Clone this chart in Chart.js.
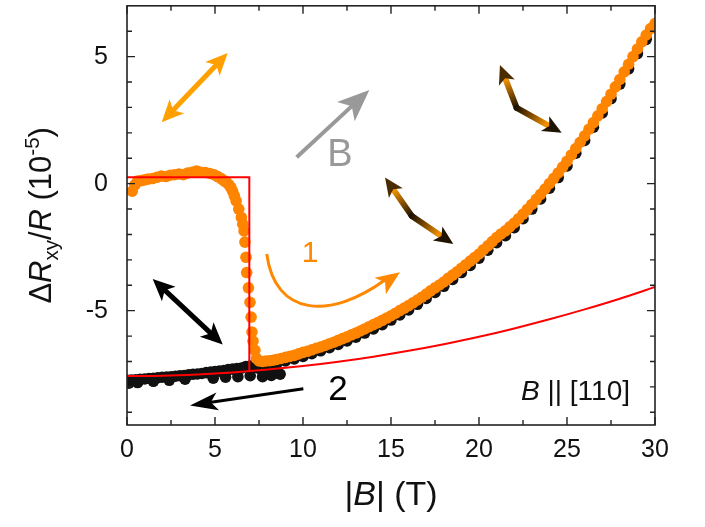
<!DOCTYPE html>
<html>
<head>
<meta charset="utf-8">
<script src="https://cdn.jsdelivr.net/npm/chart.js@4.4.0/dist/chart.umd.min.js"></script>
<style>
html, body { margin: 0; padding: 0; background: #fff; }
</style>
</head>
<body>
<canvas id="chart" width="705" height="527"></canvas>
<script>
// sweep 1 (up, orange)
var upX = [0.3, 0.45, 0.6, 0.8, 1.0, 1.2, 1.45, 1.7, 1.95, 2.2, 2.45, 2.7, 2.95, 3.2, 3.45, 3.7, 3.95, 4.2, 4.45, 4.7, 4.95, 5.15, 5.35, 5.5, 5.65, 5.8, 5.9, 6.0, 6.1,
    6.2, 6.35, 6.5, 6.58, 6.65, 6.7, 6.76, 6.8, 6.9, 6.99, 7.05, 7.1, 7.16, 7.27, 7.36,
    7.5, 7.7, 7.9, 8.1, 8.3, 8.5, 8.75, 9.0, 9.25, 9.5, 9.75, 10.0, 10.25, 10.5, 10.75, 11.0, 11.25, 11.5, 11.75,
    12.0, 12.25, 12.5, 12.75, 13.0, 13.25, 13.5, 13.75, 14.0, 14.25, 14.5, 14.75, 15.0, 15.25, 15.5, 15.75,
    16.0, 16.25, 16.5, 16.75, 17.0, 17.25, 17.5, 17.75, 18.0, 18.25, 18.5, 18.75, 19.0, 19.25, 19.5, 19.75,
    20.0, 20.25, 20.5, 20.75, 21.0, 21.25, 21.5, 21.75, 22.0, 22.25, 22.5, 22.75, 23.0, 23.25, 23.5, 23.75,
    24.0, 24.25, 24.5, 24.75, 25.0, 25.25, 25.5, 25.75, 26.0, 26.25, 26.5, 26.75, 27.0, 27.25, 27.5, 27.75,
    28.0, 28.25, 28.5, 28.75, 29.0, 29.25, 29.5, 29.75, 30.0];
var upY = [-0.3, -0.05, 0.1, 0.12, 0.15, 0.18, 0.2, 0.25, 0.3, 0.28, 0.33, 0.35, 0.38, 0.35, 0.42, 0.45, 0.5, 0.45, 0.44, 0.4, 0.35, 0.28, 0.2, 0.12, 0.05, -0.05, -0.15, -0.3, -0.48,
    -0.68, -1.0, -1.33, -1.6, -1.86, -2.3, -2.9, -3.5, -4.1, -4.67, -5.25, -5.84, -6.2, -6.56, -6.88,
    -6.98, -7.0, -6.98, -6.97, -6.95, -6.92, -6.88, -6.84, -6.8, -6.76, -6.7, -6.64, -6.6, -6.54, -6.48, -6.43, -6.37, -6.3, -6.24,
    -6.17, -6.1, -6.03, -5.95, -5.88, -5.8, -5.72, -5.63, -5.55, -5.47, -5.38, -5.29, -5.2, -5.1, -5.0, -4.9,
    -4.8, -4.69, -4.58, -4.47, -4.35, -4.22, -4.1, -3.99, -3.87, -3.73, -3.6, -3.47, -3.33, -3.19, -3.05, -2.91,
    -2.77, -2.6, -2.45, -2.28, -2.12, -1.98, -1.86, -1.7, -1.55, -1.38, -1.2, -1.01, -0.82, -0.62, -0.42, -0.21,
    0.0, 0.21, 0.42, 0.65, 0.88, 1.13, 1.38, 1.63, 1.88, 2.14, 2.4, 2.67, 2.95, 3.23, 3.52, 3.81,
    4.1, 4.4, 4.7, 5.0, 5.3, 5.58, 5.85, 6.1, 6.3];

// sweep 2 (down, black)
var downX = [30, 29.5, 29, 28.5, 28, 27.5, 27, 26.5, 26, 25.5, 25, 24.5, 24, 23.5, 23, 22.5, 22, 21.5, 21, 20.5, 20,
    19.5, 19, 18.5, 18, 17.5, 17, 16.5, 16, 15.5, 15, 14.5, 14, 13.5, 13, 12.5, 12, 11.5, 11, 10.5, 10, 9.5, 9,
    8.5, 8.25, 8, 7.75, 7.5, 7.25, 7, 6.75, 6.5, 6.25, 6, 5.75, 5.5, 5.25, 5, 4.75, 4.5, 4.25, 4, 3.75, 3.5, 3.25,
    3, 2.75, 2.5, 2.25, 2, 1.75, 1.5, 1.25, 1, 0.75, 0.5, 0.25, 0.05,
    0.1, 0.6, 1.5, 2.4, 3.3, 4.9, 5.6, 6.3, 7.0, 7.7, 8.2, 8.7];
var downY = [6.15, 5.68, 5.12, 4.52, 3.92, 3.35, 2.78, 2.22, 1.7, 1.2, 0.7, 0.24, -0.18, -0.6, -1.0, -1.38, -1.73, -2.05, -2.32, -2.62, -2.93,
    -3.22, -3.5, -3.77, -4.04, -4.28, -4.52, -4.75, -4.97, -5.17, -5.37, -5.55, -5.72, -5.88, -6.04, -6.19, -6.33, -6.46, -6.58, -6.69, -6.8, -6.9, -6.98,
    -7.1, -7.2, -7.28, -7.3, -7.27, -7.22, -7.18, -7.2, -7.26, -7.28, -7.3, -7.32, -7.36, -7.38, -7.4, -7.42, -7.44, -7.47, -7.49, -7.5, -7.52, -7.55,
    -7.56, -7.58, -7.6, -7.61, -7.62, -7.64, -7.66, -7.67, -7.69, -7.7, -7.72, -7.73, -7.74,
    -7.85, -7.83, -7.78, -7.74, -7.7, -7.66, -7.62, -7.6, -7.56, -7.6, -7.55, -7.5];

// model (red)
var stepX = [0, 6.95, 6.95];
var stepY = [0.25, 0.25, -7.38];
var fitX = [0, 2, 4, 6, 8, 10, 12, 14, 16, 18, 20, 22, 24, 26, 28, 30];
var fitY = [-7.57, -7.56, -7.51, -7.43, -7.32, -7.18, -7.01, -6.81, -6.58, -6.32, -6.03, -5.7, -5.34, -4.95, -4.53, -4.07];

var xTicks = [0, 5, 10, 15, 20, 25, 30];
var yTicks = [-5, 0, 5];
var xMinor = [2.5, 7.5, 12.5, 17.5, 22.5, 27.5];
var yMinor = [-9, -8, -7, -6, -4, -3, -2, -1, 1, 2, 3, 4, 6];

var FONT = '"Liberation Sans", Arial, sans-serif';

function pts(xs, ys) {
    var out = [];
    for (var i = 0; i < xs.length; i++) out.push({ x: xs[i], y: ys[i] });
    return out;
}

function arrowHead(ctx, tx, ty, ang, len, wid, color) {
    ctx.save();
    ctx.translate(tx, ty);
    ctx.rotate(ang);
    ctx.fillStyle = color;
    ctx.beginPath();
    ctx.moveTo(0, 0);
    ctx.lineTo(-len, -wid / 2);
    ctx.lineTo(-len * 0.75, 0);
    ctx.lineTo(-len, wid / 2);
    ctx.closePath();
    ctx.fill();
    ctx.restore();
}

function arrow(ctx, x0, y0, x1, y1, o) {
    var ang = Math.atan2(y1 - y0, x1 - x0);
    var back = o.len * 0.7;
    var sx = x0, sy = y0;
    if (o.dbl) { sx = x0 + Math.cos(ang) * back; sy = y0 + Math.sin(ang) * back; }
    ctx.save();
    ctx.strokeStyle = o.color;
    ctx.lineWidth = o.lw;
    ctx.beginPath();
    ctx.moveTo(sx, sy);
    ctx.lineTo(x1 - Math.cos(ang) * back, y1 - Math.sin(ang) * back);
    ctx.stroke();
    ctx.restore();
    arrowHead(ctx, x1, y1, ang, o.len, o.wid, o.color);
    if (o.dbl) arrowHead(ctx, x0, y0, ang + Math.PI, o.len, o.wid, o.color);
}

function bentArrow(ctx, a, b, c) {
    var legs = [[b, a], [b, c]];
    legs.forEach(function (leg) {
        var p = leg[0], q = leg[1];
        var g = ctx.createLinearGradient(p[0], p[1], q[0], q[1]);
        g.addColorStop(0, '#201300');
        g.addColorStop(0.3, '#7a4800');
        g.addColorStop(0.65, '#f09000');
        g.addColorStop(0.85, '#e08a00');
        g.addColorStop(1, '#4a2c00');
        var ang = Math.atan2(q[1] - p[1], q[0] - p[0]);
        ctx.save();
        ctx.strokeStyle = g;
        ctx.lineWidth = 6;
        ctx.lineCap = 'round';
        ctx.beginPath();
        ctx.moveTo(p[0], p[1]);
        ctx.lineTo(q[0] - Math.cos(ang) * 12, q[1] - Math.sin(ang) * 12);
        ctx.stroke();
        ctx.restore();
        arrowHead(ctx, q[0], q[1], ang, 19, 17, g);
    });
}

function richText(ctx, segs, size, x, y) {
    var w = 0;
    segs.forEach(function (s) {
        var fs = s.sub || s.sup ? size * 0.66 : size;
        ctx.font = (s.it ? 'italic ' : '') + fs + 'px ' + FONT;
        s.w = ctx.measureText(s.t).width;
        s.fs = fs;
        w += s.w;
    });
    var cx = x - w / 2;
    ctx.textAlign = 'left';
    ctx.textBaseline = 'alphabetic';
    segs.forEach(function (s) {
        ctx.font = (s.it ? 'italic ' : '') + s.fs + 'px ' + FONT;
        var dy = s.sub ? size * 0.22 : (s.sup ? -size * 0.38 : 0);
        ctx.fillText(s.t, cx, y + dy);
        cx += s.w;
    });
}

var decor = {
    id: 'decor',
    afterDatasetsDraw: function (chart) {
        var ctx = chart.ctx, xs = chart.scales.x, ys = chart.scales.y, a = chart.chartArea;
        function X(v) { return xs.getPixelForValue(v); }
        function Y(v) { return ys.getPixelForValue(v); }

        // frame and inward ticks
        ctx.save();
        ctx.strokeStyle = '#222';
        ctx.lineWidth = 1.6;
        ctx.strokeRect(a.left, a.top, a.right - a.left, a.bottom - a.top);
        ctx.lineWidth = 1.4;
        ctx.beginPath();
        xTicks.concat(xMinor).forEach(function (v) {
            var L = xTicks.indexOf(v) >= 0 ? 8 : 5, px = X(v);
            ctx.moveTo(px, a.bottom); ctx.lineTo(px, a.bottom - L);
            ctx.moveTo(px, a.top); ctx.lineTo(px, a.top + L);
        });
        yTicks.concat(yMinor).forEach(function (v) {
            var L = yTicks.indexOf(v) >= 0 ? 8 : 5, py = Y(v);
            ctx.moveTo(a.left, py); ctx.lineTo(a.left + L, py);
            ctx.moveTo(a.right, py); ctx.lineTo(a.right - L, py);
        });
        ctx.stroke();
        ctx.restore();

        // axis titles
        ctx.save();
        ctx.fillStyle = '#111';
        richText(ctx, [{ t: '|' }, { t: 'B', it: true }, { t: '| (T)' }], 34, (a.left + a.right) / 2, 505);
        ctx.translate(51, (a.top + a.bottom) / 2);
        ctx.rotate(-Math.PI / 2);
        richText(ctx, [{ t: '\u0394' }, { t: 'R', it: true }, { t: 'xy', sub: true }, { t: '/' }, { t: 'R', it: true },
            { t: ' (10' }, { t: '-5', sup: true }, { t: ')' }], 31, 0, 0);
        ctx.restore();

        // annotations
        arrow(ctx, X(1.97), Y(2.42), X(5.72), Y(5.14), { color: '#ffa000', lw: 5, len: 22, wid: 20, dbl: true });
        arrow(ctx, X(9.64), Y(1.04), X(13.77), Y(3.69), { color: '#999', lw: 4, len: 32, wid: 26 });
        arrow(ctx, X(1.46), Y(-3.75), X(5.44), Y(-6.33), { color: '#000', lw: 5, len: 22, wid: 20, dbl: true });
        arrow(ctx, X(10.02), Y(-8.07), X(3.58), Y(-8.73), { color: '#000', lw: 3, len: 28, wid: 18 });
        bentArrow(ctx, [X(21.19), Y(4.67)], [X(22.14), Y(2.98)], [X(24.7), Y(2.0)]);
        bentArrow(ctx, [X(14.66), Y(0.24)], [X(16.18), Y(-1.27)], [X(18.54), Y(-2.38)]);

        // curved arrow of sweep 1
        var p0 = [X(7.94), Y(-2.77)], p1 = [X(8.4), Y(-5.2)], p2 = [X(11.5), Y(-5.4)], p3 = [X(15.51), Y(-3.49)];
        ctx.save();
        ctx.strokeStyle = '#ff8800';
        ctx.lineWidth = 3;
        ctx.beginPath();
        ctx.moveTo(p0[0], p0[1]);
        ctx.bezierCurveTo(p1[0], p1[1], p2[0], p2[1], p3[0] - 14, p3[1] + 7);
        ctx.stroke();
        ctx.restore();
        arrowHead(ctx, p3[0], p3[1], Math.atan2(p3[1] - p2[1], p3[0] - p2[0]), 24, 20, '#ff8800');

        ctx.save();
        ctx.textAlign = 'center';
        ctx.textBaseline = 'middle';
        ctx.fillStyle = '#999';
        ctx.font = '38px ' + FONT;
        ctx.fillText('B', X(12.1), Y(1.1));
        ctx.fillStyle = '#ff8800';
        ctx.font = '30px ' + FONT;
        ctx.fillText('1', X(10.4), Y(-2.75));
        ctx.fillStyle = '#000';
        ctx.font = '35px ' + FONT;
        ctx.fillText('2', X(11.99), Y(-8.14));
        ctx.restore();

        ctx.save();
        ctx.fillStyle = '#111';
        ctx.textBaseline = 'middle';
        ctx.textAlign = 'right';
        ctx.font = '28px ' + FONT;
        var tail = ' || [110]';
        var tw = ctx.measureText(tail).width;
        ctx.fillText(tail, X(28.58), Y(-8.21));
        ctx.font = 'italic 28px ' + FONT;
        ctx.fillText('B', X(28.58) - tw, Y(-8.21));
        ctx.restore();
    }
};

var chart = new Chart(document.getElementById('chart').getContext('2d'), {
    type: 'scatter',
    data: {
        datasets: [
            { label: 'model step', data: pts(stepX, stepY), showLine: true, borderColor: '#ff0000', borderWidth: 2, pointRadius: 0, order: 0 },
            { label: 'model', data: pts(fitX, fitY), showLine: true, borderColor: '#ff0000', borderWidth: 2, pointRadius: 0, tension: 0.4, cubicInterpolationMode: 'monotone', order: 0 },
            { label: 'sweep 1', data: pts(upX, upY), backgroundColor: '#ff8400', borderWidth: 0, pointRadius: 5.8, order: 1 },
            { label: 'sweep 2', data: pts(downX, downY), backgroundColor: '#111', borderWidth: 0, pointRadius: 5.8, order: 2 }
        ]
    },
    options: {
        responsive: false,
        animation: false,
        layout: { padding: { top: 5, right: 50, left: 0, bottom: 0 } },
        plugins: { legend: { display: false }, tooltip: { enabled: false } },
        scales: {
            x: {
                type: 'linear', min: 0, max: 30,
                grid: { display: false, drawTicks: false },
                border: { display: false },
                ticks: { font: { family: FONT, size: 25 }, color: '#111', padding: 10, maxRotation: 0 },
                afterBuildTicks: function (s) { s.ticks = xTicks.map(function (v) { return { value: v }; }); },
                afterFit: function (s) { s.height = 102; s.paddingLeft = 0; s.paddingRight = 0; }
            },
            y: {
                type: 'linear', min: -9.5, max: 7,
                grid: { display: false, drawTicks: false },
                border: { display: false },
                ticks: { font: { family: FONT, size: 25 }, color: '#111', padding: 19 },
                afterBuildTicks: function (s) { s.ticks = yTicks.map(function (v) { return { value: v }; }); },
                afterFit: function (s) { s.width = 127; s.paddingTop = 0; s.paddingBottom = 0; }
            }
        }
    },
    plugins: [decor]
});
</script>
</body>
</html>
